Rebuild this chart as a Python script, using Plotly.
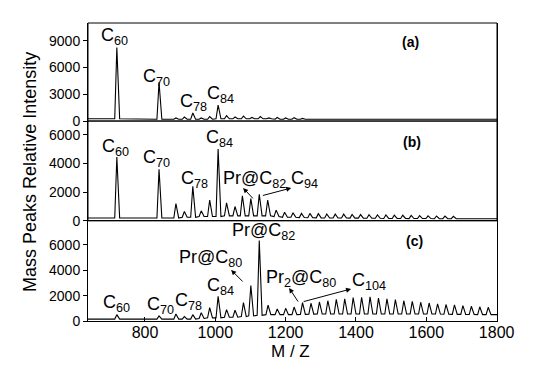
import plotly.graph_objects as go

# ---------------- data ----------------
# panel (a)
a_mz = [720, 840, 888, 912, 936, 960, 984, 1008, 1032, 1056, 1080, 1104, 1128, 1152, 1176, 1200, 1224, 1248]
a_h = [8250, 4350, 350, 450, 900, 350, 500, 1800, 600, 450, 550, 400, 500, 350, 400, 350, 380, 300]
a_floor = [250, 200, 200, 200, 200, 200, 200, 250, 250, 250, 250, 250, 250, 250, 200, 200, 200, 200]

# panel (b)
b_mz = [720, 840, 888, 912, 936, 960, 984, 1008, 1032, 1056, 1077, 1101, 1125, 1149, 1173, 1197,
        1221, 1245, 1269, 1293, 1317, 1341, 1365, 1389, 1413, 1437, 1461, 1485, 1509, 1533, 1557,
        1581, 1605, 1629, 1653, 1677]
b_h = [4450, 3600, 1200, 650, 2400, 700, 1450, 5000, 1250, 1000, 1750, 1550, 1850, 1450, 750, 600,
       560, 520, 520, 500, 480, 470, 470, 450, 440, 430, 420, 410, 400, 390, 380, 370, 350, 340, 330, 320]
b_floor = [200, 200, 200, 250, 250, 300, 300, 300, 350, 350, 350, 350, 350, 350, 300, 250,
           250, 230, 220, 210, 200, 200, 200, 190, 190, 180, 180, 170, 170, 170, 160, 160, 160, 150, 150, 150]

# panel (c)
c_mz = [720, 840, 888, 912, 936, 960, 984, 1008, 1032, 1056, 1080, 1101, 1125, 1150, 1176, 1200,
        1224, 1248, 1272, 1296, 1320, 1344, 1368, 1392, 1416, 1440, 1464, 1488, 1512, 1536, 1560,
        1584, 1608, 1632, 1656, 1680, 1704, 1728, 1752, 1776]
c_h = [500, 400, 550, 350, 500, 650, 1050, 1950, 900, 850, 1450, 2800, 6350, 1250, 950, 1000,
       1100, 1450, 1400, 1500, 1600, 1700, 1750, 1850, 1870, 1900, 1800, 1750, 1690, 1600, 1550,
       1480, 1420, 1350, 1300, 1270, 1210, 1160, 1120, 1080]
c_floor = [150, 150, 150, 150, 150, 200, 250, 250, 300, 300, 350, 400, 450, 500, 500, 500,
           500, 520, 540, 550, 550, 550, 550, 550, 550, 550, 550, 550, 550, 550, 550,
           550, 550, 550, 530, 520, 520, 510, 500, 500]

x_ticks = [800, 1000, 1200, 1400, 1600, 1800]
a_ticks = [0, 3000, 6000, 9000]
bc_ticks = [0, 2000, 4000, 6000]

X_RANGE = [638, 1801]
LEFT_HW = 6
RIGHT_HW = 8
FONT = "Liberation Sans, Arial, sans-serif"


def spectrum(mz, h, floor):
    xs, ys = [X_RANGE[0]], [floor[0]]
    for m, v, f in zip(mz, h, floor):
        xs += [m - LEFT_HW, m, m + RIGHT_HW]
        ys += [f, v, f]
    xs.append(X_RANGE[1] + 5)
    ys.append(floor[-1])
    return xs, ys


fig = go.Figure()
for (mz, h, fl), ya in [((a_mz, a_h, a_floor), "y3"), ((b_mz, b_h, b_floor), "y2"), ((c_mz, c_h, c_floor), "y")]:
    xs, ys = spectrum(mz, h, fl)
    fig.add_trace(go.Scatter(x=xs, y=ys, mode="lines", line=dict(color="black", width=1.1),
                             xaxis="x", yaxis=ya, showlegend=False, hoverinfo="skip"))

axis_common = dict(showline=True, linecolor="black", linewidth=1, mirror=True, showgrid=False,
                   zeroline=False, ticks="outside", ticklen=4, tickcolor="black",
                   tickfont=dict(family=FONT, size=14, color="black"))

fig.update_layout(
    width=551, height=390,
    margin=dict(l=80, r=62, t=15, b=77),
    paper_bgcolor="white", plot_bgcolor="white",
    xaxis=dict(range=X_RANGE, tickvals=x_ticks, anchor="y",
               **{**axis_common, "ticks": "inside", "ticklabelstandoff": -3,
                  "tickfont": dict(family=FONT, size=16, color="black")}),
    yaxis=dict(domain=[0, 0.336], range=[0, 7900], tickvals=bc_ticks, **axis_common),
    yaxis2=dict(domain=[0.336, 0.671], range=[0, 6950], tickvals=bc_ticks, **axis_common),
    yaxis3=dict(domain=[0.671, 1.0], range=[0, 11000], tickvals=a_ticks, **axis_common),
)

# box lines for upper panels
for ya in ["y2", "y3"]:
    fig.add_shape(type="rect", xref="x domain", yref=f"{ya} domain", x0=0, x1=1, y0=0, y1=1,
                  line=dict(color="black", width=1))

lab_font = dict(family=FONT, size=18, color="black")
labels = [
    ("y3", 713, 9430, "C<sub>60</sub>"), ("y3", 833, 4940, "C<sub>70</sub>"),
    ("y3", 938, 2130, "C<sub>78</sub>"), ("y3", 1014, 3030, "C<sub>84</sub>"),
    ("y2", 716, 5100, "C<sub>60</sub>"), ("y2", 833, 4350, "C<sub>70</sub>"),
    ("y2", 940, 2900, "C<sub>78</sub>"), ("y2", 1011, 5750, "C<sub>84</sub>"),
    ("y2", 1111, 2900, "Pr@C<sub>82</sub>"), ("y2", 1255, 2850, "C<sub>94</sub>"),
    ("y", 719, 1343, "C<sub>60</sub>"), ("y", 844, 1185, "C<sub>70</sub>"),
    ("y", 923, 1500, "C<sub>78</sub>"), ("y", 1014, 2690, "C<sub>84</sub>"),
    ("y", 986, 4900, "Pr@C<sub>80</sub>"), ("y", 1136, 7030, "Pr@C<sub>82</sub>"),
    ("y", 1244, 3320, "Pr<sub>2</sub>@C<sub>80</sub>"), ("y", 1437, 3080, "C<sub>104</sub>"),
]
for ya, x, y, t in labels:
    fig.add_annotation(x=x, y=y, xref="x", yref=ya, text=t, showarrow=False, font=lab_font)

panel_tags = [("y3", 1556, 8870, "(a)"), ("y2", 1559, 5480, "(b)"), ("y", 1565, 6320, "(c)")]
for ya, x, y, t in panel_tags:
    fig.add_annotation(x=x, y=y, xref="x", yref=ya, text=f"<b>{t}</b>", showarrow=False,
                       font=dict(family=FONT, size=14, color="black"))

arrows = [
    ("y2", 1079, 2290, 1111, 1460), ("y2", 1216, 2290, 1131, 1740),
    ("y", 1045, 4030, 1082, 3000), ("y", 1210, 2600, 1238, 1420), ("y", 1386, 2530, 1247, 1500),
]
for ya, x, y, ax, ay in arrows:
    fig.add_annotation(x=x, y=y, ax=ax, ay=ay, xref="x", yref=ya, axref="x", ayref=ya, text="",
                       showarrow=True, arrowhead=2, arrowsize=1, arrowwidth=1, arrowcolor="black",
                       standoff=0, startstandoff=0)

fig.add_annotation(x=-0.142, y=0.5, xref="paper", yref="paper", text="Mass Peaks Relative Intensity",
                   textangle=-90, showarrow=False, xanchor="center", yanchor="middle",
                   font=dict(family=FONT, size=18, color="black"))
fig.add_annotation(x=0.494, y=-0.104, xref="paper", yref="paper", text="M / Z",
                   showarrow=False, xanchor="center", yanchor="middle",
                   font=dict(family=FONT, size=17, color="black"))

fig.write_html("out.html")
